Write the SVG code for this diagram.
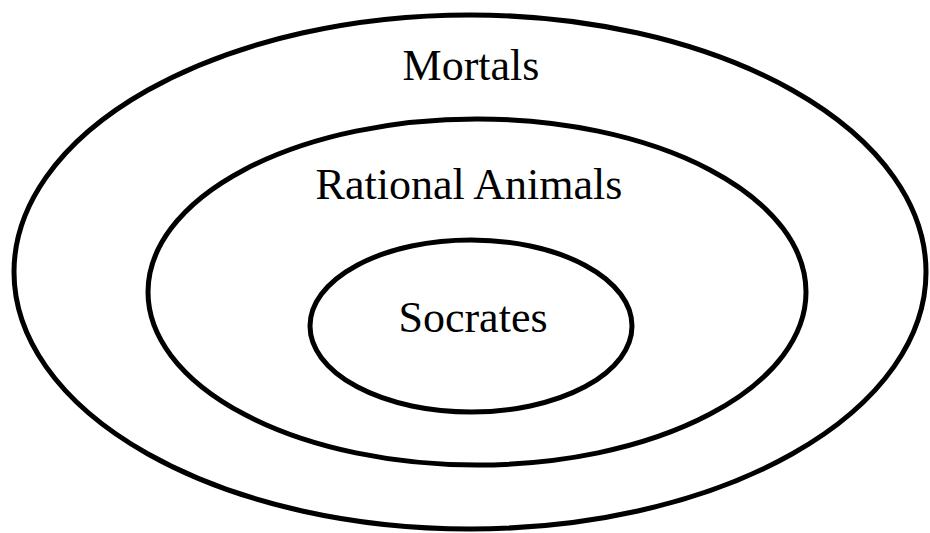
<svg xmlns="http://www.w3.org/2000/svg" width="930" height="533" viewBox="0 0 930 533">
<style>
.e{fill:none;stroke:#000;stroke-width:5}
.t{font-family:"Liberation Serif","Times New Roman",serif;font-size:44px;fill:#000;text-anchor:middle}
</style>
<rect width="930" height="533" fill="#fff"/>
<g id="mortals">
<ellipse class="e" cx="470" cy="272" rx="456" ry="257"/>
<text class="t" x="471" y="80">Mortals</text>
</g>
<g id="rational-animals">
<ellipse class="e" cx="477" cy="292" rx="329" ry="173"/>
<text class="t" x="469" y="199">Rational Animals</text>
</g>
<g id="socrates">
<ellipse class="e" cx="471" cy="326" rx="161" ry="86"/>
<text class="t" x="473" y="332">Socrates</text>
</g>
<g id="connectors"/>
</svg>
